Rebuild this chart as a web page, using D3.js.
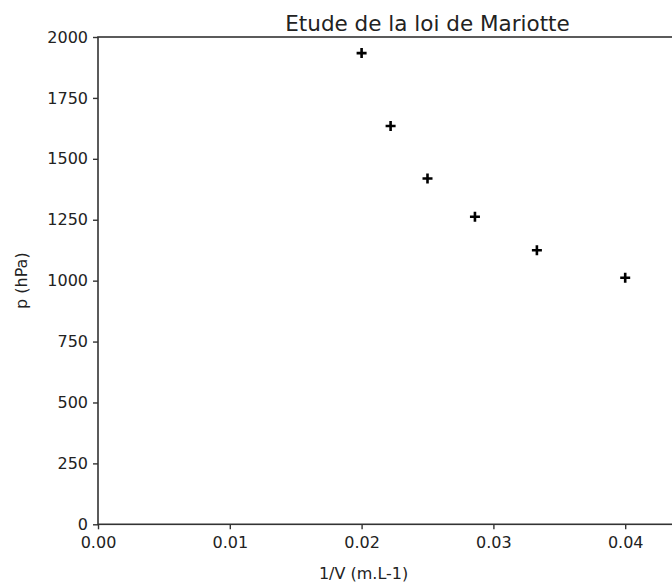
<!DOCTYPE html>
<html>
<head>
<meta charset="utf-8">
<script src="https://cdn.jsdelivr.net/npm/d3@7"></script>
<style>
  body { margin: 0; background: #fff; }
  svg { display: block; font-family: "DejaVu Sans", sans-serif; }
</style>
</head>
<body>
<div id="container"></div>
<script>
// données : 1/V (mL-1) et pression (hPa)
const invV = [0.0200, 0.0222, 0.0250, 0.0286, 0.0333, 0.0400];
const pressure = [1934, 1635, 1419, 1262, 1125, 1012];
const xTicks = [0.00, 0.01, 0.02, 0.03, 0.04];
const yTicks = [0, 250, 500, 750, 1000, 1250, 1500, 1750, 2000];

const width = 672;
const height = 584;
const margin = { top: 37, right: -85, bottom: 60, left: 98 };

const svg = d3.select('#container').append('svg')
  .attr('width', width)
  .attr('height', height);

const x = d3.scaleLinear()
  .domain([0, 0.05])
  .range([margin.left, width - margin.right]);
const y = d3.scaleLinear()
  .domain([0, 2000])
  .range([height - margin.bottom + 0.3, margin.top]);

// cadre du graphique (le bord droit sort de l'image)
svg.append('rect')
  .attr('x', x(0))
  .attr('y', y(2000))
  .attr('width', x(0.05) - x(0))
  .attr('height', y(0) - y(2000))
  .attr('fill', 'none')
  .attr('stroke', '#333')
  .attr('stroke-width', 1.6);

const xAxis = svg.append('g')
  .attr('transform', `translate(0,${y(0)})`)
  .call(d3.axisBottom(x).tickValues(xTicks).tickFormat(d3.format('.2f')).tickSize(5).tickPadding(7));
const yAxis = svg.append('g')
  .attr('transform', `translate(${x(0)},0)`)
  .call(d3.axisLeft(y).tickValues(yTicks).tickFormat(d3.format('d')).tickSize(5).tickPadding(5));

[xAxis, yAxis].forEach(a => {
  a.select('.domain').remove();
  a.selectAll('line').attr('stroke', '#333').attr('stroke-width', 1.4);
  a.selectAll('text')
    .attr('fill', '#222')
    .style('font-size', '16px')
    .style('font-family', '"DejaVu Sans", sans-serif');
});

// points en croix
svg.selectAll('path.pt')
  .data(invV.map((v, i) => ({ x: v, y: pressure[i] })))
  .enter().append('path')
  .attr('class', 'pt')
  .attr('transform', d => `translate(${x(d.x)},${y(d.y)})`)
  .attr('d', 'M-5,0H5M0,-5V5')
  .attr('stroke', '#000')
  .attr('stroke-width', 2.6);

// titres
svg.append('text')
  .attr('x', (x(0) + x(0.05)) / 2)
  .attr('y', 31)
  .attr('text-anchor', 'middle')
  .style('font-size', '21.5px')
  .attr('fill', '#222')
  .text('Etude de la loi de Mariotte');

svg.append('text')
  .attr('x', x(0.02) + 2)
  .attr('y', 579)
  .attr('text-anchor', 'middle')
  .style('font-size', '16px')
  .attr('fill', '#222')
  .text('1/V (m.L-1)');

svg.append('text')
  .attr('transform', `translate(${27},${(y(0) + y(2000)) / 2}) rotate(-90)`)
  .attr('text-anchor', 'middle')
  .style('font-size', '16px')
  .attr('fill', '#222')
  .text('p (hPa)');
</script>
</body>
</html>
